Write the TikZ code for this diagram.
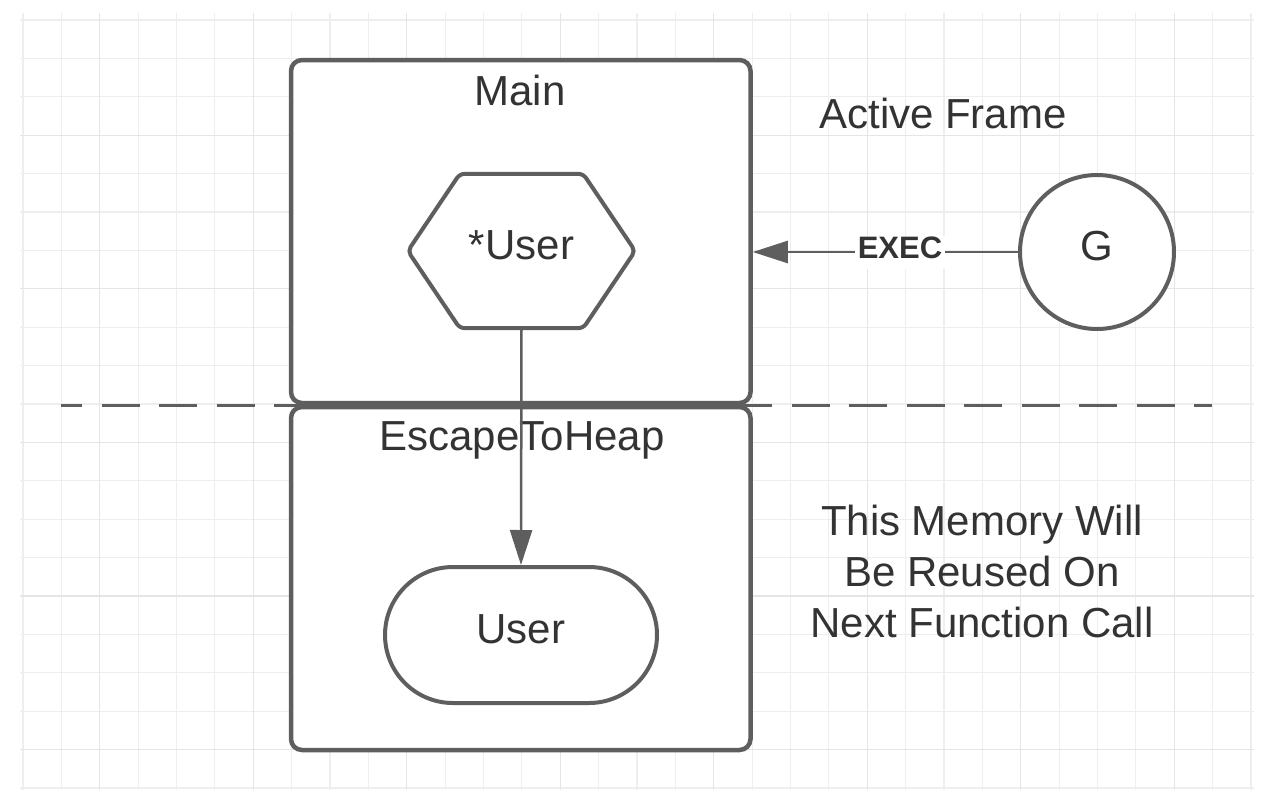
\documentclass[tikz,border=0pt]{standalone}
\usepackage{fontspec}
\setmainfont{Liberation Sans}
\usetikzlibrary{shapes.misc,arrows.meta,calc,positioning}

\definecolor{edge}{HTML}{5E5E5E}
\definecolor{ink}{HTML}{333333}
\definecolor{gridminor}{HTML}{EEEEEE}
\definecolor{gridmajor}{HTML}{E5E5E5}

\tikzset{
    gridline/.style={draw=gridminor, line width=1.2pt},
    gridbold/.style={draw=gridmajor, line width=1.3pt},
    frame/.style={draw=edge, fill=white, line width=4.5pt, rounded corners=11pt,
        minimum width=459.5pt, minimum height=343pt, inner sep=0pt},
    inlabel/.style={text=ink, font=\fontsize{42}{50}\selectfont, text height=30pt, text depth=13pt},
    hexbox/.style={rectangle, minimum width=227pt, minimum height=154pt, inner sep=0pt, inlabel},
    hexline/.style={draw=edge, line width=4pt, rounded corners=5pt},
    pill/.style={rounded rectangle, draw=edge, fill=white, line width=4pt,
        minimum width=272pt, minimum height=136pt, inner sep=0pt, inlabel},
    gnode/.style={circle, draw=edge, fill=white, line width=4pt,
        minimum size=154pt, inner sep=0pt, inlabel},
    link/.style={draw=edge, line width=2.5pt, -{Triangle[length=35pt, width=22pt]}},
    plain/.style={text=ink, font=\fontsize{42}{51}\selectfont, inner sep=0pt}
}

\begin{document}
\begin{tikzpicture}[x=1pt, y=-1pt]
    \useasboundingbox (0,0) rectangle (1262,806);

    % background grid
    \foreach \k in {0,...,32}
        \draw[gridline] ({23+38.375*\k},13) -- ({23+38.375*\k},790);
    \foreach \k in {0,...,20}
        \draw[gridline] (20,{20+38.4*\k}) -- (1254,{20+38.4*\k});
    \foreach \k in {2,6,...,30}
        \draw[gridbold] ({23+38.375*\k},13) -- ({23+38.375*\k},790);
    \foreach \k in {3,7,...,19}
        \draw[gridbold] (20,{20+38.4*\k}) -- (1254,{20+38.4*\k});

    % stack boundary
    \coordinate (cutL) at (61,405);
    \coordinate (cutR) at (1212,405);
    \draw[edge, line width=3pt, dash pattern=on 38pt off 19.5pt, dash phase=17pt] (cutL) -- (cutR);

    % frames
    \node[frame] (Main) at (520.75,231.5) {};
    \node[frame] (Heap) at (520.75,578.5) {};
    \node[plain, anchor=base] (MainTitle) at (520,105) {Main};
    \node[plain, anchor=base] (HeapTitle) at (522,450) {EscapeToHeap};

    % contents
    \node[hexbox] (Ptr) at (521.5,251) {*User};
    \draw[hexline] (Ptr.west) -- ($(Ptr.north west)+(52,0)$) -- ($(Ptr.north east)+(-52,0)$)
        -- (Ptr.east) -- ($(Ptr.south east)+(-52,0)$) -- ($(Ptr.south west)+(52,0)$) -- cycle;
    \node[pill] (Obj) at (521,635) {User};
    \node[gnode] (G) at (1097,252) {G};

    \draw[link] (Ptr.south) -- (Obj.north);
    \draw[link] (G.west) -- (G.west -| Main.east)
        node[pos=0.445, fill=white, inner xsep=3pt, inner ysep=0pt, text=ink,
             font=\fontsize{31}{36}\selectfont\bfseries,
             text height=22.5pt, text depth=10.5pt] (Exec) {EXEC};

    % notes
    \node[plain, anchor=base] (Active) at (943,128) {Active Frame};
    \node[plain, align=center, anchor=north] (Reuse) at (982,505)
        {This Memory Will\\Be Reused On\\Next Function Call};

\end{tikzpicture}
\end{document}
